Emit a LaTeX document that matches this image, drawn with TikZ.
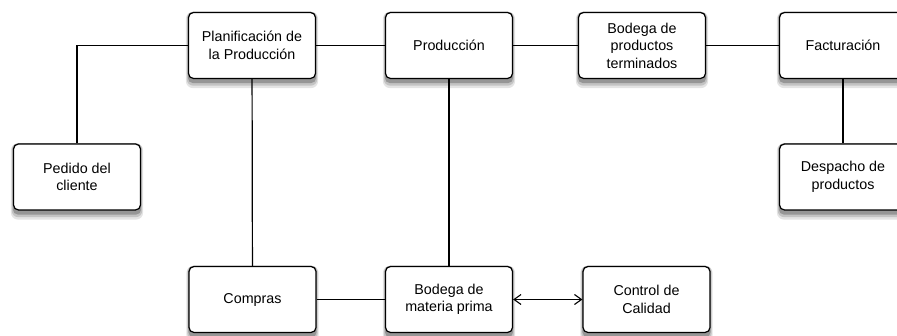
\documentclass[tikz,border=0pt]{standalone}
\usepackage{fontspec}
\setmainfont{Liberation Sans}
\usepackage{tikz}
\usetikzlibrary{arrows.meta,backgrounds}
\definecolor{shadeA}{RGB}{228,228,228}
\definecolor{shadeB}{RGB}{195,195,195}
\definecolor{shadeC}{RGB}{150,150,150}

\begin{document}
\begin{tikzpicture}[x=1pt, y=-1pt, line width=1.2pt, >={Straight Barb[length=7pt,width=10pt,line width=1.1pt]},
    box/.style={draw, rounded corners=5pt, fill=white, align=center, inner sep=2pt,
        minimum width=127pt, minimum height=66pt,
        font=\fontsize{14.3}{17.5}\selectfont}]
   	 \useasboundingbox (0,0) rectangle (897,336);
   	 \node[box] (plan) at (252,45.5) {Planificación de\\la Producción};
   	 \node[box] (pedido) at (77,177) {Pedido del\\cliente};
   	 \node[box] (compras) at (252.5,299.5) {Compras};
   	 \node[box] (prod) at (449,45.5) {Producción};
   	 \node[box] (bodegapt) at (642,45.5) {Bodega de\\productos\\terminados};
   	 \node[box] (fact) at (843,45.5) {Facturación};
   	 \node[box] (despacho) at (843,177) {Despacho de\\productos};
   	 \node[box] (bodegamp) at (449,299.5) {Bodega de\\materia prima};
   	 \node[box] (control) at (646.5,299.5) {Control de\\Calidad};
   	 \begin{scope}[on background layer]
   	   \foreach \n in {plan,pedido,compras,prod,bodegapt,fact,despacho,bodegamp,control} {
   	     \fill[shadeA, rounded corners=7pt] ([xshift=-2pt,yshift=-9pt]\n.south west) rectangle ([xshift=2pt]\n.north east);
   	     \fill[shadeB, rounded corners=6pt] ([xshift=-1pt,yshift=-6.5pt]\n.south west) rectangle ([xshift=1pt]\n.north east);
   	     \fill[shadeC, rounded corners=5pt] ([yshift=-4pt]\n.south west) rectangle (\n.north east);
   	   }
   	 \end{scope}
   	 \draw (pedido.north) |- (plan.west);
   	 \draw (plan) -- (prod);
   	 \draw (prod) -- (bodegapt);
   	 \draw (bodegapt) -- (fact);
   	 \draw (fact) -- (despacho);
   	 \draw (plan) -- (compras);
   	 \draw (prod) -- (bodegamp);
   	 \draw (compras) -- (bodegamp);
   	 \draw[<->] (bodegamp) -- (control);
\end{tikzpicture}
\end{document}
